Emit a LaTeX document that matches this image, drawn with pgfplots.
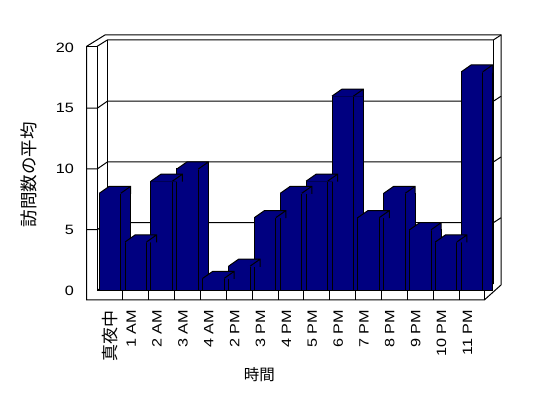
\documentclass[border=0pt]{standalone}
\usepackage{fontspec}
\setmainfont{Liberation Sans}[FakeStretch=1.2]
\newfontfamily\jp{Noto Sans CJK JP}
\usepackage{pgfplots}
\pgfplotsset{compat=1.18}
\usepackage{pgfplotstable}
\definecolor{barnavy}{HTML}{000080}

\pgfplotstableread{
x v
0 8
1 4
2 9
3 10
4 1
5 2
6 6
7 8
8 9
9 16
10 6
11 8
12 5
13 4
14 18
}\visits

\pgfdeclareplotmark{topface}{%
  \pgfpathmoveto{\pgfqpoint{-10.73bp}{0bp}}%
  \pgfpathlineto{\pgfqpoint{-0.73bp}{7bp}}%
  \pgfpathlineto{\pgfqpoint{20.73bp}{7bp}}%
  \pgfpathlineto{\pgfqpoint{20.73bp}{-0.6bp}}%
  \pgfpathlineto{\pgfqpoint{-10.73bp}{-0.6bp}}%
  \pgfpathclose
  \pgfusepathqfill
  \pgfpathmoveto{\pgfqpoint{-10.73bp}{0bp}}%
  \pgfpathlineto{\pgfqpoint{-0.73bp}{7bp}}%
  \pgfpathlineto{\pgfqpoint{20.73bp}{7bp}}%
  \pgfpathlineto{\pgfqpoint{20.73bp}{-0.6bp}}%
  \pgfpathmoveto{\pgfqpoint{10.73bp}{0bp}}%
  \pgfpathlineto{\pgfqpoint{20.73bp}{7bp}}%
  \pgfusepathqstroke
}

\begin{document}
\begin{tikzpicture}[line width=1bp]
\begin{axis}[
  x=25.86bp, y=12.15bp,
  xmin=-0.901, xmax=15.12, ymin=-0.78, ymax=21.03,
  enlargelimits=false, clip=false,
  axis line style={draw=none},
  tick style={draw=none},
  major tick length=0pt,
  /pgf/number format/assume math mode=true,
  ytick={0,5,10,15,20},
  yticklabel style={font=\fontsize{13.5bp}{16bp}\selectfont, inner sep=0pt, anchor=east},
  yticklabel shift=12.7bp,
  xtick={0,...,14},
  xticklabels={{\raisebox{-6.3bp}{\jp\fontsize{17bp}{19bp}\selectfont 真夜中}},1 AM,2 AM,3 AM,4 AM,2 PM,3 PM,4 PM,5 PM,6 PM,7 PM,8 PM,9 PM,10 PM,11 PM},
  xticklabel style={font=\fontsize{13.5bp}{16bp}\selectfont, rotate=90, anchor=base east, inner sep=0pt},
  xticklabel shift=10bp,
  xlabel={\jp 時間},
  xlabel style={font=\fontsize{15.5bp}{18bp}\selectfont, at={(axis description cs:0.4169,-0.2819)}, anchor=center},
  ylabel={\jp 訪問数の平均},
  ylabel style={font=\fontsize{17.5bp}{20bp}\selectfont, at={(axis description cs:-0.139,0.4717)}, anchor=center, rotate=0},
  every axis plot/.append style={line width=1bp},
]
% frame
\draw[line width=1bp] (axis cs:-0.901,-0.78) -- (axis cs:-0.901,20.1) -- (axis cs:-0.1933,21.03) -- (axis cs:15.12,21.03) -- (axis cs:15.12,0.453) -- (axis cs:14.474,-0.78) -- cycle;
\draw[line width=1bp] (axis cs:-0.901,20.1) -- (axis cs:-0.495,20.1) -- (axis cs:-0.495,0) -- (axis cs:14.474,0) -- (axis cs:14.474,-0.78);
\draw[line width=1bp] (axis cs:-0.495,20.1) -- (axis cs:-0.1044,20.617) -- (axis cs:14.822,20.617) -- (axis cs:15.12,21.03);
\draw[line width=1bp] (axis cs:-0.1044,20.617) -- (axis cs:-0.1044,0.576) -- (axis cs:14.822,0.576) -- (axis cs:14.822,20.617);
\draw[line width=1bp] (axis cs:-0.495,0) -- (axis cs:-0.1044,0.576);
\draw[line width=1bp] (axis cs:14.474,0) -- (axis cs:14.822,0.576);
% gridlines
\draw[line width=1bp] (axis cs:-0.901,5) -- (axis cs:-0.495,5) -- (axis cs:-0.1044,5.576) -- (axis cs:14.822,5.576) -- (axis cs:15.12,5.986);
\draw[line width=1bp] (axis cs:-0.901,10) -- (axis cs:-0.495,10) -- (axis cs:-0.1044,10.576) -- (axis cs:14.822,10.576) -- (axis cs:15.12,10.986);
\draw[line width=1bp] (axis cs:-0.901,15) -- (axis cs:-0.495,15) -- (axis cs:-0.1044,15.576) -- (axis cs:14.822,15.576) -- (axis cs:15.12,15.986);
% floor separators
\pgfplotsinvokeforeach{0.5,1.5,2.5,3.5,4.5,5.5,6.5,7.5,8.5,9.5,10.5,11.5,12.5,13.5}{
  \draw[line width=1bp] (axis cs:#1,-0.78) -- (axis cs:#1,0);
}
% side faces
\addplot[ybar, bar width=0.3867, bar shift=0.6084, fill=barnavy, draw=black] table[x=x, y=v] {\visits};
% top faces
\addplot[only marks, mark=topface, mark options={fill=barnavy, draw=black, line width=1bp}] table[x=x, y=v] {\visits};
% front faces
\addplot[ybar, bar width=0.83, bar shift=0, fill=barnavy, draw=black] table[x=x, y=v] {\visits};
\coordinate (bbSW) at (axis cs:-4.254,-8.848);
\coordinate (bbNE) at (axis cs:16.937,23.909);
\end{axis}
\pgfresetboundingbox
\useasboundingbox (bbSW) rectangle (bbNE);
\end{tikzpicture}
\end{document}
